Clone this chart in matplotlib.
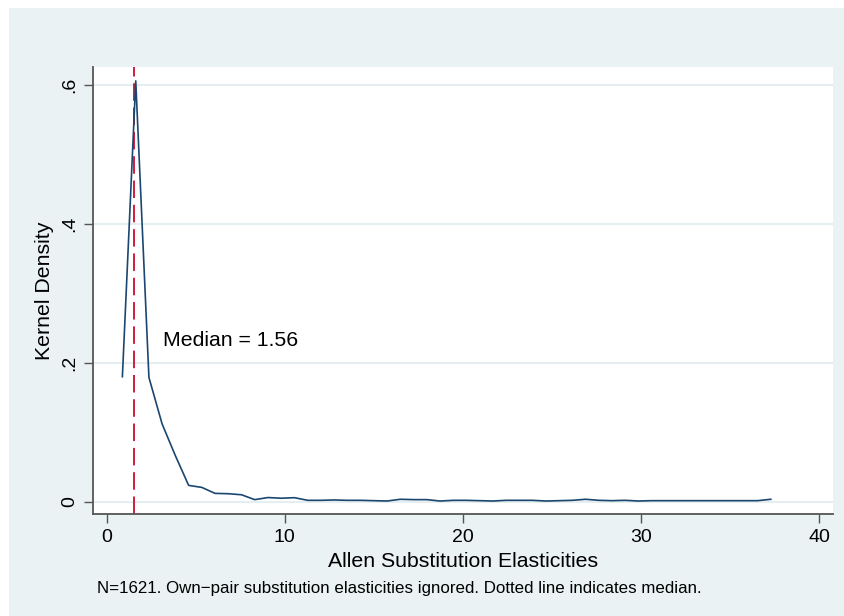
import numpy as np
import matplotlib
matplotlib.use('Agg')
from matplotlib import pyplot as plt
from matplotlib.patches import Rectangle

# kernel density estimate, 50 evaluation points
grid_x = [0.88, 1.63, 2.37, 3.11, 3.86, 4.60, 5.34, 6.08, 6.83, 7.57,
          8.31, 9.06, 9.80, 10.54, 11.29, 12.03, 12.77, 13.51, 14.26, 15.00,
          15.74, 16.49, 17.23, 17.97, 18.71, 19.46, 20.20, 20.94, 21.69, 22.43,
          23.17, 23.91, 24.66, 25.40, 26.14, 26.89, 27.63, 28.37, 29.11, 29.86,
          30.60, 31.34, 32.09, 32.83, 33.57, 34.31, 35.06, 35.80, 36.54, 37.29]
density = [0.180, 0.606, 0.179, 0.112, 0.066, 0.0235, 0.0206, 0.012, 0.0115, 0.010,
           0.003, 0.006, 0.005, 0.0058, 0.002, 0.002, 0.0025, 0.002, 0.002, 0.0015,
           0.001, 0.0035, 0.003, 0.003, 0.001, 0.002, 0.002, 0.0015, 0.001, 0.002,
           0.002, 0.002, 0.001, 0.0015, 0.002, 0.0035, 0.002, 0.0015, 0.002, 0.001,
           0.0015, 0.0015, 0.0015, 0.0015, 0.0015, 0.0015, 0.0015, 0.0015, 0.0015, 0.0035]
median = 1.56

xticks = [0, 10, 20, 30, 40]
yticks = [0, 0.2, 0.4, 0.6]
ytick_labels = ['0', '.2', '.4', '.6']

plt.rcParams['font.family'] = ['Liberation Sans', 'DejaVu Sans']

W, H = 844, 616
fig = plt.figure(figsize=(W / 100, H / 100), dpi=100, facecolor='white')

# stata-like light blue graph region
bg = Rectangle((9 / W, 0), 1 - 9 / W, 1 - 8 / H, transform=fig.transFigure,
               facecolor='#eaf2f3', edgecolor='none', zorder=-10)
fig.patches.append(bg)

ax = fig.add_axes([93 / W, 1 - 514 / H, 740 / W, 447 / H])
ax.set_facecolor('white')

ax.axvline(median, color='#d01c3e', lw=1.4, dashes=(9, 3.5), zorder=2)
ax.plot(grid_x, density, color='#1a476f', lw=1.2, zorder=3)

ax.text(3.14, 0.224, 'Median = %.2f' % median, fontsize=15.3, color='black',
        ha='left', va='baseline')

ax.set_xlim(-0.77, 40.78)
ax.set_ylim(-0.0177, 0.626)
ax.set_xticks(xticks)
ax.set_yticks(yticks)
ax.set_yticklabels(ytick_labels)
ax.yaxis.grid(True, color='#e6eef1', lw=1.5, zorder=0)
ax.set_axisbelow(True)

for s in ['top', 'right']:
    ax.spines[s].set_visible(False)
for s in ['left', 'bottom']:
    ax.spines[s].set_color('#555555')
    ax.spines[s].set_linewidth(1.3)

ax.tick_params(axis='both', colors='#555555', labelcolor='black', length=6.5,
               width=1.0, labelsize=14)
ax.tick_params(axis='x', pad=4)
ax.tick_params(axis='y', pad=4)
for lab in ax.get_yticklabels():
    lab.set_rotation(90)
    lab.set_va('center')

ax.set_xlabel('Allen Substitution Elasticities', fontsize=15.3)
ax.xaxis.label.set_va('baseline')
ax.xaxis.set_label_coords(0.5, -(566.7 - 514) / 447)
ax.set_ylabel('Kernel Density', fontsize=15.3)
ax.yaxis.label.set_va('center')
ax.yaxis.set_label_coords(-(93 - 45) / 740, 0.5)

fig.text(96.7 / W, 1 - 593.3 / H,
         'N=1621. Own\u2212pair substitution elasticities ignored. Dotted line indicates median.',
         fontsize=12.2, ha='left', va='baseline')

plt.savefig('out.png', dpi=100, facecolor=fig.get_facecolor())
